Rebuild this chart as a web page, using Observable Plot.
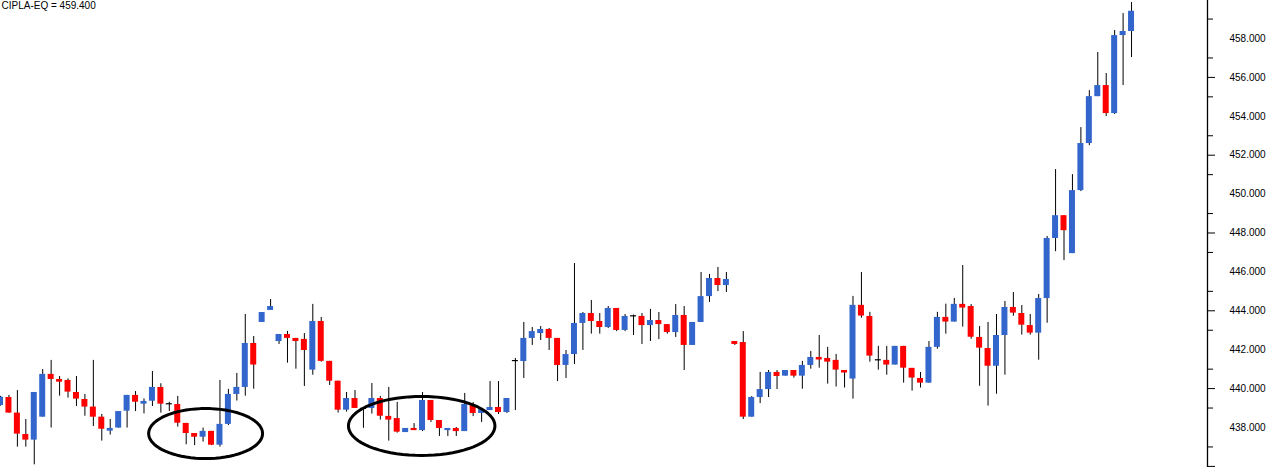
<!DOCTYPE html>
<html>
<head>
<meta charset="utf-8">
<script src="https://cdn.jsdelivr.net/npm/d3@7"></script>
<script src="https://cdn.jsdelivr.net/npm/@observablehq/plot@0.6"></script>
<style>
  html, body { margin: 0; padding: 0; background: #fff; }
  #chart { width: 1280px; height: 467px; }
</style>
</head>
<body>
<div id="chart"></div>
<script>
const symbol = "CIPLA-EQ";

const opens = [
  439.13, 439.54, 438.74, 437.64, 437.35, 438.53, 440.73, 440.47, 440.42, 439.80,
  439.44, 439.05, 438.53, 437.81, 437.97, 438.84, 439.65, 439.20, 439.35, 440.06,
  439.22, 439.18, 438.21, 437.69, 437.50, 437.80, 437.09, 438.16, 439.70, 440.06,
  442.32, 443.40, 444.02, 442.42, 442.78, 442.58, 442.53, 440.95, 443.45, 441.40,
  440.38, 438.89, 439.49, 438.98, 438.98, 439.49, 438.57, 438.46, 437.74, 437.95,
  437.84, 439.39, 438.36, 437.84, 437.95, 437.79, 439.13, 438.72, 438.87, 439.03,
  438.77, 441.44, 441.39, 442.58, 442.83, 443.04, 442.58, 441.19, 441.75, 443.35,
  443.86, 443.45, 443.14, 444.12, 442.99, 443.74, 443.71, 443.24, 443.50, 443.29,
  442.88, 443.76, 442.22, 443.40, 444.73, 445.66, 445.30, 442.42, 442.37, 438.53,
  439.54, 439.95, 440.83, 440.64, 440.93, 440.64, 441.19, 441.60, 441.55, 441.45,
  440.93, 440.49, 444.28, 443.71, 441.48, 441.45, 441.21, 442.17, 441.04, 440.52,
  440.28, 442.12, 443.66, 443.42, 444.33, 444.22, 442.63, 442.06, 441.15, 442.73,
  444.17, 443.86, 443.24, 442.85, 444.63, 447.72, 448.89, 446.94, 450.18, 452.60,
  455.01, 455.58, 454.14, 458.15, 458.36
];
const highs = [
  439.60, 439.65, 439.90, 438.41, 439.80, 440.98, 441.45, 440.62, 440.50, 440.62,
  439.70, 441.45, 438.67, 438.41, 438.82, 439.65, 439.85, 439.47, 440.88, 440.25,
  439.30, 439.60, 438.21, 437.69, 437.97, 437.80, 440.42, 439.96, 440.78, 443.81,
  442.68, 443.91, 444.58, 442.78, 442.94, 442.58, 442.83, 444.33, 443.66, 441.40,
  440.38, 439.80, 439.90, 438.98, 440.26, 439.60, 440.06, 439.29, 437.95, 438.20,
  439.80, 439.39, 438.36, 437.95, 438.00, 439.75, 439.28, 438.92, 440.36, 440.36,
  439.49, 441.55, 443.40, 443.14, 443.19, 443.09, 442.58, 441.96, 446.43, 443.91,
  444.53, 443.86, 444.22, 444.12, 443.81, 443.78, 443.86, 444.07, 443.91, 443.29,
  444.32, 444.22, 443.40, 445.97, 445.87, 446.23, 445.97, 442.42, 442.93, 439.59,
  440.83, 440.93, 440.93, 440.93, 440.93, 441.40, 441.91, 442.73, 442.12, 441.76,
  440.93, 444.74, 445.97, 443.92, 442.17, 442.17, 442.17, 442.17, 441.04, 440.83,
  442.42, 443.92, 444.34, 444.64, 446.33, 444.32, 443.19, 443.40, 443.81, 444.48,
  444.94, 444.27, 443.81, 444.84, 447.82, 451.26, 448.89, 451.00, 453.42, 455.32,
  457.28, 456.20, 458.41, 459.28, 459.85
];
const lows = [
  439.10, 438.74, 436.99, 436.99, 436.08, 438.53, 437.97, 439.61, 439.51, 439.08,
  438.58, 438.05, 437.30, 437.61, 437.97, 437.97, 438.82, 438.70, 439.08, 438.74,
  438.82, 438.02, 437.11, 437.07, 437.25, 437.07, 436.99, 438.10, 439.36, 439.61,
  439.97, 443.40, 444.02, 442.27, 441.31, 441.00, 440.11, 440.69, 441.36, 440.16,
  438.74, 438.79, 438.98, 437.96, 438.69, 438.38, 437.30, 437.71, 437.74, 437.84,
  437.79, 438.26, 437.54, 437.54, 437.54, 437.79, 438.56, 438.26, 438.87, 438.67,
  438.72, 438.87, 440.52, 442.22, 442.47, 441.96, 440.36, 440.52, 441.24, 441.96,
  442.80, 442.80, 443.09, 442.93, 442.93, 442.73, 442.27, 442.42, 442.52, 442.80,
  442.63, 440.93, 442.22, 443.40, 444.43, 444.99, 444.94, 442.22, 438.41, 438.53,
  439.23, 439.54, 439.95, 440.64, 440.54, 439.97, 441.00, 441.05, 440.23, 440.08,
  440.03, 439.46, 443.62, 441.36, 440.95, 440.69, 441.21, 440.28, 439.87, 440.03,
  440.28, 442.03, 442.80, 443.42, 443.16, 442.54, 440.12, 439.10, 439.71, 440.69,
  443.72, 442.75, 442.75, 441.46, 443.36, 447.04, 446.58, 446.94, 450.13, 452.49,
  455.01, 453.99, 454.09, 455.58, 457.02
];
const closes = [
  439.56, 438.74, 437.66, 437.35, 439.80, 440.73, 440.47, 440.33, 439.82, 439.46,
  439.05, 438.53, 437.91, 437.95, 438.82, 439.65, 439.30, 439.34, 440.06, 439.20,
  439.22, 438.22, 437.69, 437.50, 437.80, 437.09, 438.16, 439.70, 440.06, 442.32,
  441.21, 443.91, 444.22, 442.78, 442.58, 442.42, 441.96, 443.45, 441.40, 440.38,
  438.89, 439.49, 438.98, 438.98, 439.49, 438.58, 438.38, 437.76, 437.95, 437.84,
  439.39, 438.36, 437.95, 437.95, 437.79, 439.18, 438.72, 438.92, 439.03, 438.77,
  439.49, 441.44, 442.58, 442.93, 443.04, 442.58, 441.19, 441.75, 443.35, 443.86,
  443.45, 443.14, 444.12, 442.99, 443.71, 443.74, 443.24, 443.50, 443.29, 442.88,
  443.76, 442.22, 443.40, 444.73, 445.66, 445.30, 445.61, 442.27, 438.53, 439.54,
  439.95, 440.83, 440.62, 440.93, 440.64, 441.19, 441.60, 441.47, 441.36, 440.95,
  440.80, 444.28, 443.73, 441.67, 441.48, 441.21, 442.17, 441.05, 440.54, 440.28,
  442.12, 443.66, 443.42, 444.33, 444.14, 442.64, 442.08, 441.15, 442.73, 444.17,
  443.88, 443.26, 442.85, 444.63, 447.72, 448.89, 448.12, 450.18, 452.60, 455.01,
  455.58, 454.14, 458.15, 458.36, 459.40
];

// price-axis labels and minor/major ticks
const labelTicks = [438, 440, 442, 444, 446, 448, 450, 452, 454, 456, 458];
const minorTicks = [437, 439, 441, 443, 445, 447, 449, 451, 453, 455, 457, 459];
const majorTicks = [436, 440, 444, 448, 452, 456];

// hand-drawn annotation ellipses (centre bar index, centre price, radius in bars, radius in price)
const ellipseCx = [24.3, 49.9];
const ellipseCy = [437.69, 438.08];
const ellipseRx = [6.75, 8.68];
const ellipseRy = [1.285, 1.517];

const data = opens.map((o, i) => ({i, open: o, high: highs[i], low: lows[i], close: closes[i]}));
const bodies = data.filter(d => d.open !== d.close);
const dojis = data.filter(d => d.open === d.close);
const halfBody = 0.355;

const ellipsePts = [];
ellipseCx.forEach((cx, k) => {
  for (let s = 0; s < 72; s++) {
    const t = (s / 72) * 2 * Math.PI;
    ellipsePts.push({id: k, x: cx + ellipseRx[k] * Math.cos(t), y: ellipseCy[k] + ellipseRy[k] * Math.sin(t)});
  }
});

const lastClose = closes[closes.length - 1];
const title = `${symbol} = ${lastClose.toFixed(3)}`;

const chart = Plot.plot({
  width: 1280,
  height: 467,
  marginLeft: 0,
  marginRight: 73,
  marginTop: 0,
  marginBottom: 0,
  style: {background: "#fff", fontFamily: "'Liberation Sans', Arial, sans-serif", fontSize: "10px", color: "#000"},
  x: {domain: [0, 143], axis: null},
  y: {domain: [435.943, 459.954], axis: null},
  marks: [
    Plot.ruleX(data, {x: "i", y1: "low", y2: "high", stroke: "#000", strokeWidth: 1, clip: true}),
    Plot.rect(bodies, {
      x1: d => d.i - halfBody, x2: d => d.i + halfBody,
      y1: "open", y2: "close",
      fill: d => d.close > d.open ? "#3366CC" : "#FF0000",
      clip: true
    }),
    Plot.ruleY(dojis, {y: "open", x1: d => d.i - halfBody, x2: d => d.i + halfBody, stroke: "#000", strokeWidth: 1.2, clip: true}),
    Plot.line(ellipsePts, {x: "x", y: "y", z: "id", curve: "linear-closed", stroke: "#000", strokeWidth: 3}),
    Plot.ruleX([143], {stroke: "#000", strokeWidth: 1.3}),
    Plot.axisY({anchor: "right", ticks: minorTicks, tickSize: 5, tickFormat: () => "", stroke: "#000"}),
    Plot.axisY({anchor: "right", ticks: majorTicks, tickSize: 7, tickFormat: () => "", stroke: "#000"}),
    Plot.axisY({anchor: "right", ticks: labelTicks, tickSize: 0, tickPadding: 22, tickFormat: d => d.toFixed(3), fontSize: 10, fill: "#000"}),
    Plot.text([title], {frameAnchor: "top-left", textAnchor: "start", lineAnchor: "top", dx: 1, dy: 1, fontSize: 10, fill: "#000"})
  ]
});
document.getElementById("chart").appendChild(chart);
</script>
</body>
</html>
